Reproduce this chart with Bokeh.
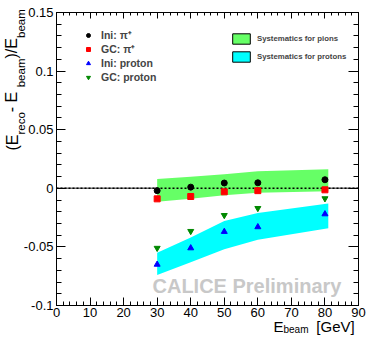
from bokeh.plotting import figure
from bokeh.models import (LinearAxis, FixedTicker, Label, Legend, LegendItem,
                          ColumnDataSource, Range1d)
from bokeh.embed import file_html
from bokeh.resources import INLINE
import numpy as np

# ---------------- data ----------------
energies = [30, 40, 50, 60, 80]
ini_pi = [-0.002, 0.001, 0.0045, 0.0047, 0.0073]
gc_pi = [-0.009, -0.007, -0.003, -0.002, -0.0013]
ini_p = [-0.065, -0.051, -0.037, -0.033, -0.022]
gc_p = [-0.051, -0.0366, -0.023, -0.017, -0.0087]

band_x = [30, 40, 50, 60, 81]
pion_band_hi = [0.008, 0.0098, 0.012, 0.0145, 0.0163]
pion_band_lo = [-0.0115, -0.009, -0.006, -0.0037, -0.0025]
proton_band_hi = [-0.055, -0.042, -0.028, -0.021, -0.013]
proton_band_lo = [-0.074, -0.063, -0.052, -0.044, -0.034]

x_ticks = [0, 10, 20, 30, 40, 50, 60, 70, 80, 90]
x_tick_labels = ["0", "10", "20", "30", "40", "50", "60", "70", "80", "90"]
y_ticks = [-0.1, -0.05, 0, 0.05, 0.1, 0.15]
y_tick_labels = ["-0.1", "-0.05", "0", "0.05", "0.1", "0.15"]

legend1_labels = ["Ini: \u03c0\u207a", "GC: \u03c0\u207a", "Ini: proton", "GC: proton"]
legend2_labels = ["Systematics for pions", "Systematics for protons"]

# axis titles, split into main text and subscripts
ytitle_main = ["(E", " - E", ")/E"]
ytitle_sub = ["reco", "beam", "beam"]
xtitle_main = ["E", "[GeV]"]
xtitle_sub = ["beam"]

FONT = "Liberation Sans"
W, H = 368, 342
BL, BR, BT, BB = 56, 10, 12, 37

p = figure(width=W, height=H, x_range=(0, 90), y_range=(-0.1, 0.15),
           output_backend="svg", toolbar_location=None,
           min_border_left=BL, min_border_right=BR, min_border_top=BT,
           min_border_bottom=BB)
p.grid.visible = False
p.outline_line_color = "black"
p.outline_line_width = 1
p.background_fill_color = "white"
p.border_fill_color = "white"

# pixel-like ranges used only to position the title pieces
p.extra_y_ranges = {"py": Range1d(start=H - BB, end=BT)}
p.extra_x_ranges = {"px": Range1d(start=BL, end=W - BR)}

x_minor = list(np.arange(0, 90.1, 2))
y_minor = list(np.round(np.arange(-0.1, 0.1501, 0.01), 3))

def style_axis(ax, ticks, minor, labels, tin, tmin, show_labels=True):
    ax.ticker = FixedTicker(ticks=ticks, minor_ticks=minor)
    ax.major_tick_in = tin
    ax.major_tick_out = 0
    ax.minor_tick_in = tmin
    ax.minor_tick_out = 0
    ax.axis_line_color = "black"
    ax.major_tick_line_color = "black"
    ax.minor_tick_line_color = "black"
    ax.axis_label = None
    if show_labels:
        ax.major_label_overrides = {t: l for t, l in zip(ticks, labels)}
        ax.major_label_text_font = FONT
        ax.major_label_text_font_size = "13px"
        ax.major_label_text_color = "black"
    else:
        ax.major_label_overrides = {t: "" for t in ticks}
        ax.major_label_text_font_size = "0px"
        ax.major_label_standoff = 0

style_axis(p.xaxis[0], x_ticks, x_minor, x_tick_labels, 8, 4)
p.xaxis[0].major_label_standoff = 2
style_axis(p.yaxis[0], y_ticks, y_minor, y_tick_labels, 9, 5)
p.yaxis[0].major_label_standoff = 3

ax_top = LinearAxis()
style_axis(ax_top, x_ticks, x_minor, x_tick_labels, 6, 3, show_labels=False)
p.add_layout(ax_top, "above")
ax_right = LinearAxis()
style_axis(ax_right, y_ticks, y_minor, y_tick_labels, 10, 5, show_labels=False)
p.add_layout(ax_right, "right")

def title_axis(dim, ticks, labels, size, standoff, orient):
    kw = {"y_range_name": "py"} if dim == "y" else {"x_range_name": "px"}
    ax = LinearAxis(**kw)
    ax.ticker = FixedTicker(ticks=ticks, minor_ticks=[])
    ax.major_label_overrides = {t: l for t, l in zip(ticks, labels)}
    ax.major_label_orientation = orient
    ax.major_label_standoff = standoff
    ax.major_label_text_font = FONT
    ax.major_label_text_font_size = f"{size}px"
    ax.major_label_text_color = "black"
    ax.major_tick_in = 0
    ax.major_tick_out = 0
    ax.minor_tick_in = 0
    ax.minor_tick_out = 0
    ax.axis_line_color = None
    ax.major_tick_line_color = None
    ax.minor_tick_line_color = None
    ax.axis_label = None
    return ax

# y title: pieces laid end to end from the bottom (page y = 150) upwards
def piece_centers(start, pieces):
    widths = {"(": .333, "E": .667, " ": .278, "-": .333, ")": .333, "/": .278,
              "r": .333, "e": .556, "c": .5, "o": .556, "b": .556, "a": .556,
              "m": .833}
    out, pos = [], start
    for txt, fs in pieces:
        w = sum(widths[c] for c in txt) * fs
        out.append(round(pos - w / 2, 1))
        pos -= w
    return out

YM, YS = 16, 11.5
seq = [(ytitle_main[0], YM), (ytitle_sub[0], YS), (ytitle_main[1], YM),
       (ytitle_sub[1], YS), (ytitle_main[2], YM), (ytitle_sub[2], YS)]
cent = piece_centers(150, seq)
ysub_ax = title_axis("y", cent[1::2], ytitle_sub, YS, -7, "vertical")
ymain_ax = title_axis("y", cent[0::2], ytitle_main, YM, -8, "vertical")
p.add_layout(ysub_ax, "left")
p.add_layout(ymain_ax, "left")

# x title
xmain_ax = title_axis("x", [278, 335], xtitle_main, 15, -2, "horizontal")
xsub_ax = title_axis("x", [295.5], xtitle_sub, 10, -14, "horizontal")
p.add_layout(xmain_ax, "below")
p.add_layout(xsub_ax, "below")

# zero line (solid under the bands, dashed above)
p.line(x=[0, 90], y=[0, 0], line_color="#777777", line_width=1.5)

green = p.varea(x=band_x, y1=pion_band_lo, y2=pion_band_hi, fill_color="#66ff66")
cyan = p.varea(x=band_x, y1=proton_band_lo, y2=proton_band_hi, fill_color="#00ffff")

p.line(x=[0, 90], y=[0, 0], line_color="black", line_width=1.5, line_dash="2 2")

r_gcp = p.scatter(energies, gc_p, marker="inverted_triangle", size=6, color="#008800")
r_inip = p.scatter(energies, ini_p, marker="triangle", size=6, color="#0000ff")
r_gcpi = p.scatter(energies, gc_pi, marker="square", size=6, color="#ff0000")
r_inipi = p.scatter(energies, ini_pi, marker="circle", size=6, color="black")

leg1 = Legend(items=[LegendItem(label=legend1_labels[0], renderers=[r_inipi]),
                     LegendItem(label=legend1_labels[1], renderers=[r_gcpi]),
                     LegendItem(label=legend1_labels[2], renderers=[r_inip]),
                     LegendItem(label=legend1_labels[3], renderers=[r_gcp])],
              location=(27, 221), glyph_width=10, glyph_height=14, label_height=14,
              spacing=0, padding=0, margin=0, label_standoff=8,
              label_text_font=FONT, label_text_font_style="bold",
              label_text_font_size="10.5px", border_line_color=None,
              background_fill_alpha=0)
p.add_layout(leg1)

# legend proxies for the systematics bands: degenerate (zero-size) quads
src_pi = ColumnDataSource(dict(l=[band_x[0]], r=[band_x[0]],
                               t=[pion_band_hi[0]], b=[pion_band_hi[0]]))
src_pr = ColumnDataSource(dict(l=[band_x[0]], r=[band_x[0]],
                               t=[proton_band_hi[0]], b=[proton_band_hi[0]]))
q1 = p.quad(left="l", right="r", top="t", bottom="b", source=src_pi,
            fill_color="#66ff66", line_color="black", line_width=1)
q2 = p.quad(left="l", right="r", top="t", bottom="b", source=src_pr,
            fill_color="#00ffff", line_color="black", line_width=1)
leg2 = Legend(items=[LegendItem(label=legend2_labels[0], renderers=[q1]),
                     LegendItem(label=legend2_labels[1], renderers=[q2])],
              location=(174, 242), glyph_width=22, glyph_height=13, label_height=13,
              spacing=5, padding=0, margin=0, label_standoff=5,
              label_text_font=FONT, label_text_font_style="bold",
              label_text_font_size="7.8px", border_line_color=None,
              background_fill_alpha=0)
p.add_layout(leg2)

# watermark
p.add_layout(Label(x=96, y=9, x_units="screen", y_units="screen",
                   text="CALICE Preliminary", text_font=FONT,
                   text_font_style="bold", text_font_size="20px",
                   text_color="#c8c8c8"))

open("out.html", "w").write(file_html(p, INLINE))
